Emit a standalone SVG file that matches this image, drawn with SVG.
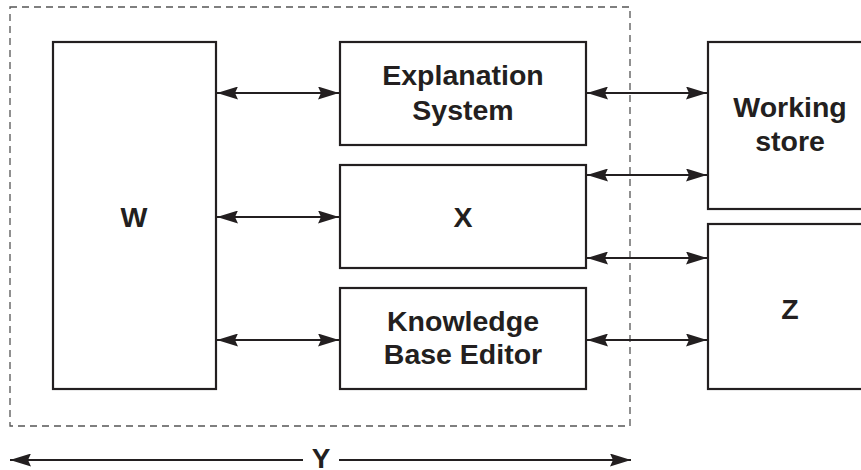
<svg xmlns="http://www.w3.org/2000/svg" width="861" height="470" viewBox="0 0 861 470">
<style>
.box{fill:#fff;stroke:#231f20;stroke-width:2.2}
.lbl{font-family:"Liberation Sans",Arial,sans-serif;font-weight:bold;font-size:28.5px;fill:#231f20;text-anchor:middle}
.ln{stroke:#231f20;stroke-width:2;fill:none}
</style>
<defs>
<marker id="ah" viewBox="0 0 21 13" refX="21" refY="6.5" markerWidth="21" markerHeight="13" markerUnits="userSpaceOnUse" orient="auto-start-reverse">
<path d="M0,0 L21,6.5 L0,13 L3,6.5 Z" fill="#231f20"/>
</marker>
</defs>
<rect x="10" y="7" width="620" height="419" fill="none" stroke="#555" stroke-width="1.3" stroke-dasharray="7,5"/>
<g id="W"><rect class="box" x="53" y="42" width="163" height="347"/><text class="lbl" x="134" y="227">W</text></g>
<g id="explanation"><rect class="box" x="340" y="42" width="246" height="103"/><text class="lbl" x="463" y="85">Explanation</text><text class="lbl" x="463" y="120">System</text></g>
<g id="X"><rect class="box" x="340" y="165" width="246" height="103"/><text class="lbl" x="463" y="227">X</text></g>
<g id="kbe"><rect class="box" x="340" y="288" width="246" height="101"/><text class="lbl" x="463" y="331">Knowledge</text><text class="lbl" x="463" y="364">Base Editor</text></g>
<g id="working"><rect class="box" x="708" y="42" width="170" height="167"/><text class="lbl" x="790" y="117">Working</text><text class="lbl" x="790" y="151">store</text></g>
<g id="Z"><rect class="box" x="708" y="224" width="170" height="165"/><text class="lbl" x="790" y="319">Z</text></g>
<g id="connectors">
<line class="ln" x1="217" y1="93" x2="339" y2="93" marker-start="url(#ah)" marker-end="url(#ah)"/>
<line class="ln" x1="217" y1="217" x2="339" y2="217" marker-start="url(#ah)" marker-end="url(#ah)"/>
<line class="ln" x1="217" y1="340" x2="339" y2="340" marker-start="url(#ah)" marker-end="url(#ah)"/>
<line class="ln" x1="587" y1="93" x2="707" y2="93" marker-start="url(#ah)" marker-end="url(#ah)"/>
<line class="ln" x1="587" y1="175" x2="707" y2="175" marker-start="url(#ah)" marker-end="url(#ah)"/>
<line class="ln" x1="587" y1="258" x2="707" y2="258" marker-start="url(#ah)" marker-end="url(#ah)"/>
<line class="ln" x1="587" y1="340" x2="707" y2="340" marker-start="url(#ah)" marker-end="url(#ah)"/>
<line class="ln" x1="10" y1="460" x2="303" y2="460" marker-start="url(#ah)"/>
<line class="ln" x1="339" y1="460" x2="631" y2="460" marker-end="url(#ah)"/>
</g>
<g id="Y"><text class="lbl" x="321" y="468" style="font-size:28px">Y</text></g>
</svg>
